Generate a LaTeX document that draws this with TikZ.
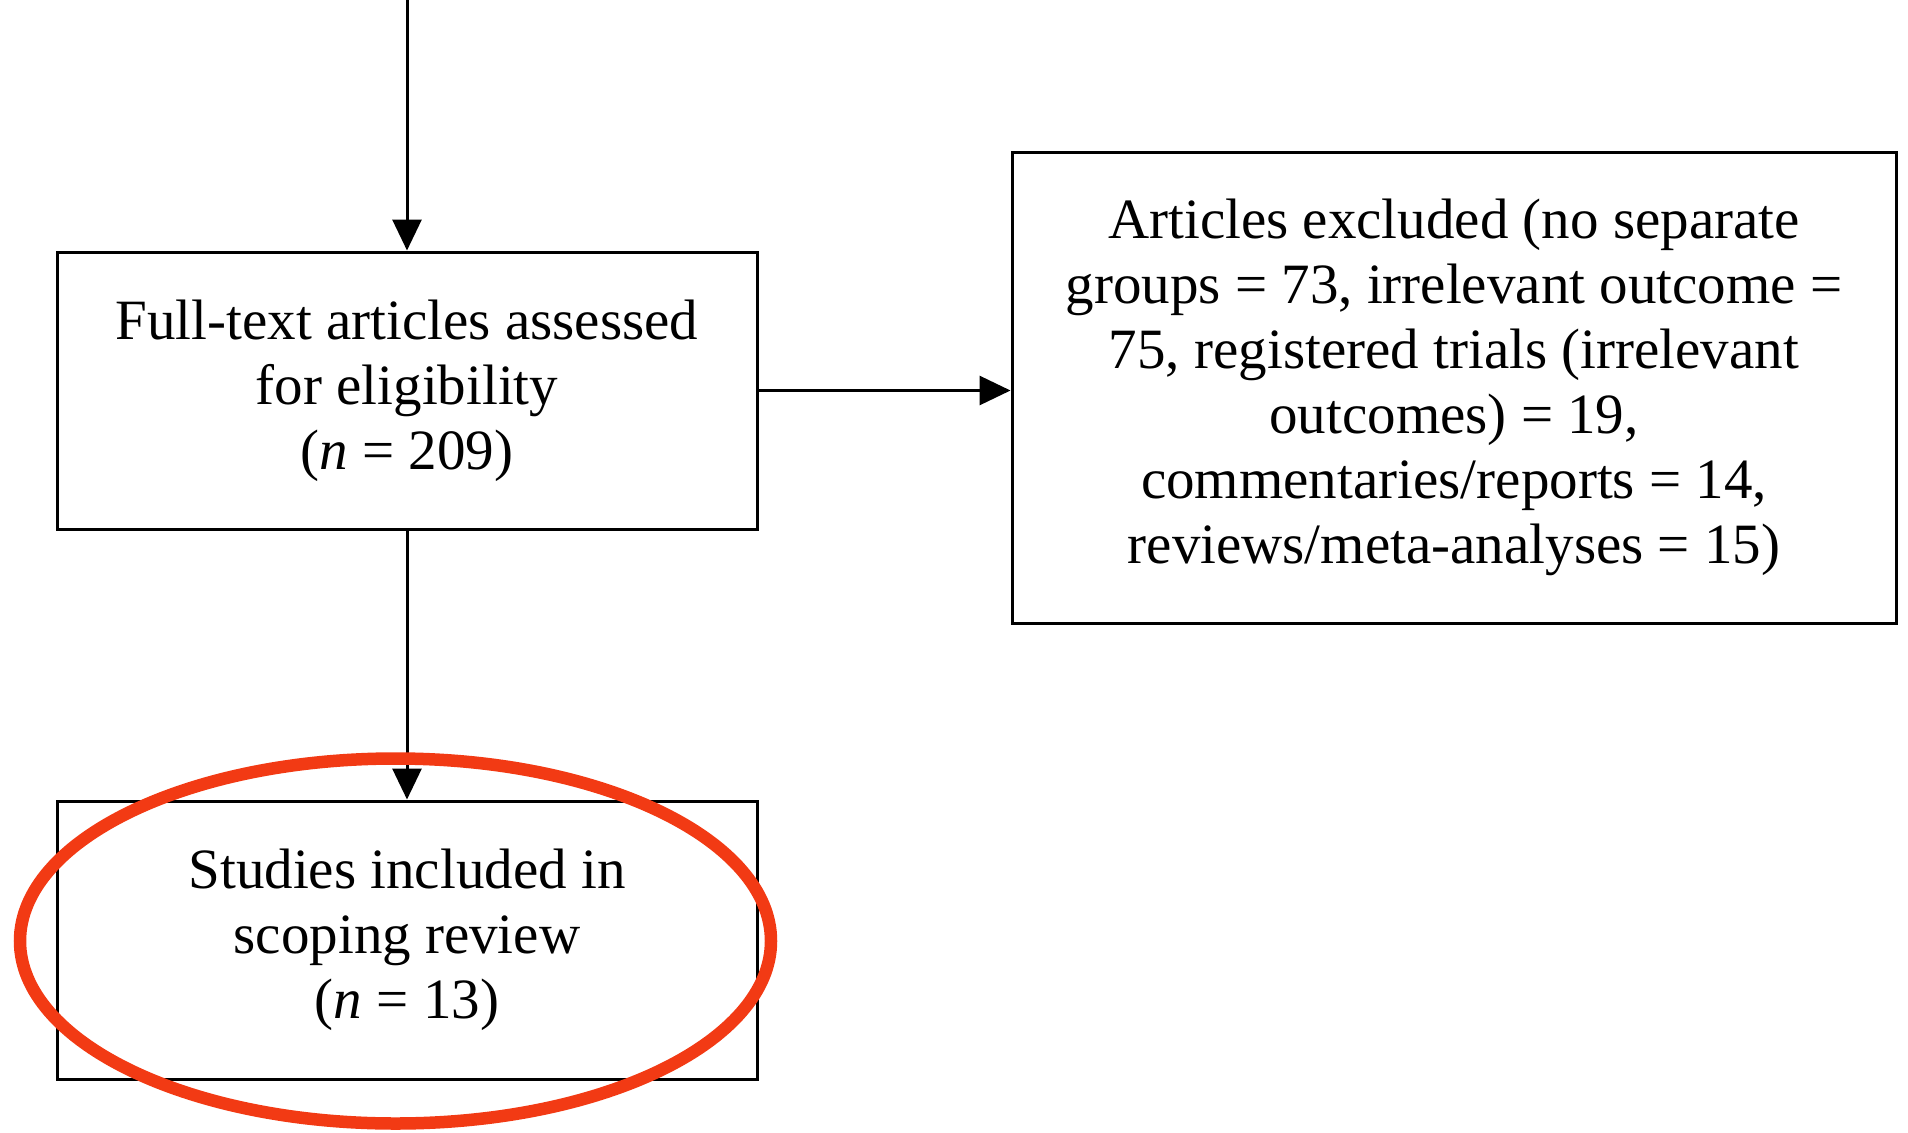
\documentclass[tikz,border=0pt]{standalone}
\usepackage{fontspec}
\setmainfont{Liberation Serif}
\usetikzlibrary{arrows.meta,shapes.geometric}
\definecolor{hlred}{RGB}{242,58,20}
\tikzset{
  box/.style={draw=black, line width=3pt, rectangle, align=center, inner sep=0pt,
    font=\fontsize{57}{65}\selectfont},
  conn/.style={draw=black, line width=3pt, -{Triangle[length=31pt,width=29pt]}},
  highlight/.style={draw=hlred, line width=12.5pt, ellipse, inner sep=0pt}
}
\begin{document}
\begin{tikzpicture}[x=1pt,y=-1pt]
\useasboundingbox (0,0) rectangle (1908,1132);
\node[box, minimum width=700pt, minimum height=277pt] (full) at (407,390.5)
  {Full-text articles assessed\\for eligibility\\(\textit{n} = 209)};
\node[box, minimum width=884pt, minimum height=471pt] (excl) at (1454,387.5)
  {Articles excluded (no separate\\groups = 73, irrelevant outcome =\\75, registered trials (irrelevant\\outcomes) = 19,\\commentaries/reports = 14,\\reviews/meta-analyses = 15)};
\node[box, minimum width=700pt, minimum height=278pt] (incl) at (407,940)
  {Studies included in\\scoping review\\(\textit{n} = 13)};
\coordinate (top) at (407,0);
\draw[conn] (top) -- (full.north);
\draw[conn] (full.east) -- (full.east -| excl.west);
\draw[conn] (full.south) -- (incl.north);
\node[highlight, minimum width=751pt, minimum height=365pt] (ring) at (395.5,941) {};
\end{tikzpicture}
\end{document}
